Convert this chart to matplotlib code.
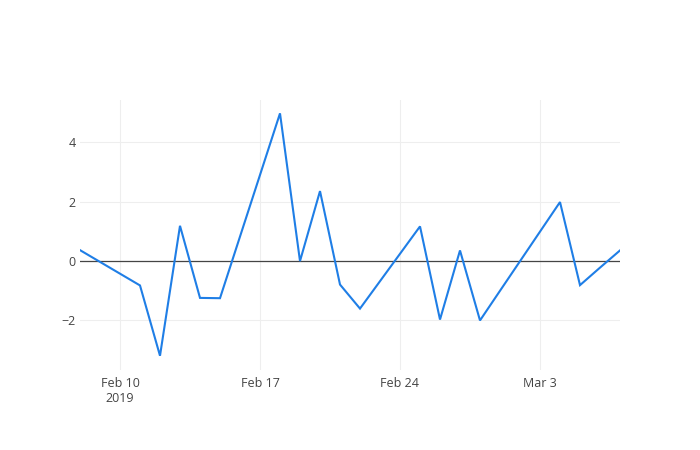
import numpy as np
import pandas as pd
import matplotlib
matplotlib.use('Agg')
import matplotlib.pyplot as plt
import matplotlib.dates as mdates

# business days, values
dates = pd.to_datetime(['2019-02-08', '2019-02-11', '2019-02-12', '2019-02-13',
                        '2019-02-14', '2019-02-15', '2019-02-18', '2019-02-19',
                        '2019-02-20', '2019-02-21', '2019-02-22', '2019-02-25',
                        '2019-02-26', '2019-02-27', '2019-02-28', '2019-03-01',
                        '2019-03-04', '2019-03-05', '2019-03-06', '2019-03-07'])
values = [0.37, -0.82, -3.19, 1.19,
          -1.24, -1.25, 4.98, 0.0,
          2.36, -0.79, -1.60, 1.17,
          -1.97, 0.36, -2.00, -1.00,
          1.99, -0.81, -0.22, 0.36]

tick_dates = pd.to_datetime(['2019-02-10', '2019-02-17', '2019-02-24', '2019-03-03'])
tick_labels = ['Feb 10\n2019', 'Feb 17', 'Feb 24', 'Mar 3']
y_ticks = [-2, 0, 2, 4]

plt.rcParams['font.family'] = ['Open Sans', 'DejaVu Sans']

fig = plt.figure(figsize=(7, 4.5), dpi=100)
ax = fig.add_axes([80/700, 80/450, 540/700, 270/450])

ax.plot(dates, values, color='#1f7ee6', lw=1.5, zorder=3, solid_joinstyle='miter')
ax.axhline(0, color='#444444', lw=0.9, zorder=2)

ax.set_xlim(pd.Timestamp('2019-02-08'), pd.Timestamp('2019-03-07'))
ax.set_ylim(-3.67, 5.43)

ax.set_xticks(tick_dates)
ax.set_xticklabels(tick_labels, linespacing=1.2)
ax.set_yticks(y_ticks)
ax.set_yticklabels(['\u2212' + str(abs(v)) if v < 0 else str(v) for v in y_ticks])

ax.grid(True, color='#eeeeee', lw=0.75, zorder=0)
ax.set_axisbelow(True)
for s in ax.spines.values():
    s.set_visible(False)
ax.tick_params(length=0, labelsize=9, colors='#444444')
ax.tick_params(axis='x', pad=5)
ax.tick_params(axis='y', pad=3)

fig.savefig('out.png', dpi=100)
